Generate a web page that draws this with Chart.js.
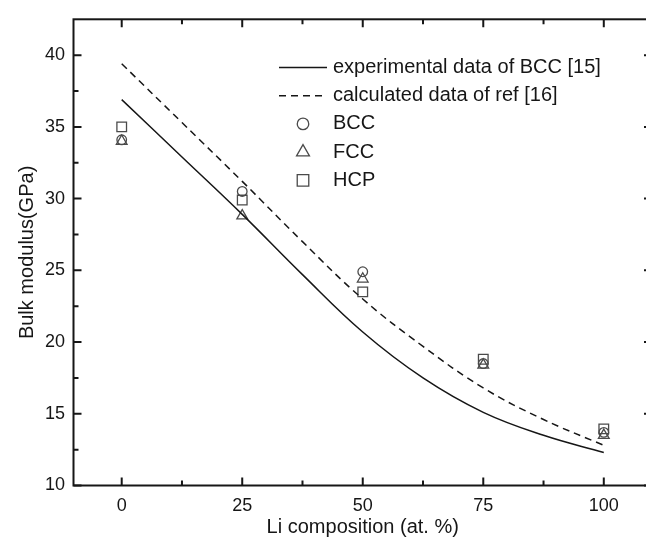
<!DOCTYPE html>
<html>
<head>
<meta charset="utf-8">
<script src="https://cdn.jsdelivr.net/npm/chart.js@4.4.1/dist/chart.umd.min.js"></script>
<style>
html, body { margin: 0; padding: 0; background: #fff; overflow: hidden; width: 646px; height: 539px; }
</style>
</head>
<body>
<canvas id="bulk_chart" width="680" height="539"></canvas>
<script>
let composition = [0, 25, 50, 75, 100];
let curveX = [0, 12.5, 25, 37.5, 50, 62.5, 75, 87.5, 100];
let experimentalBCC = [36.9, 32.9, 28.9, 24.7, 20.7, 17.5, 15.1, 13.5, 12.3];
let calculatedRef = [39.4, 35.3, 31.2, 27.0, 23.0, 19.7, 16.8, 14.6, 12.8];
let bcc = [34.1, 30.5, 24.9, 18.5, 13.7];
let fcc = [34.0, 28.8, 24.4, 18.4, 13.5];
let hcp = [35.0, 29.9, 23.5, 18.8, 13.95];
let xTicks = [0, 25, 50, 75, 100];
let xMinorTicks = [12.5, 37.5, 62.5, 87.5];
let yTicks = [10, 15, 20, 25, 30, 35, 40];
let yMinorTicks = [12.5, 17.5, 22.5, 27.5, 32.5, 37.5];

let fontFamily = '"Liberation Sans", Arial, sans-serif';
let ink = '#161616';
let markerInk = '#4a4a4a';

function pairs(xs, ys) {
    return ys.map(function(y, i) {return {x: xs[i], y: y};});
}

// axis box with inward ticks on all four sides
const framePlugin = {
    id: 'frame',
    afterDatasetsDraw: function(chart) {
        const ctx = chart.ctx;
        const a = chart.chartArea;
        const xs = chart.scales.x, ys = chart.scales.y;
        ctx.save();
        ctx.strokeStyle = ink;
        ctx.lineWidth = 2;
        ctx.strokeRect(a.left, a.top, a.right - a.left, a.bottom - a.top);
        ctx.beginPath();
        function xt(v, len) {
            const px = xs.getPixelForValue(v);
            ctx.moveTo(px, a.bottom); ctx.lineTo(px, a.bottom - len);
            ctx.moveTo(px, a.top); ctx.lineTo(px, a.top + len);
        }
        function yt(v, len) {
            const py = ys.getPixelForValue(v);
            ctx.moveTo(a.left, py); ctx.lineTo(a.left + len, py);
            ctx.moveTo(a.right, py); ctx.lineTo(a.right - len, py);
        }
        xTicks.forEach(function(v) {xt(v, 8);});
        xMinorTicks.forEach(function(v) {xt(v, 5);});
        yTicks.forEach(function(v) {yt(v, 8);});
        yMinorTicks.forEach(function(v) {yt(v, 5);});
        ctx.stroke();
        ctx.restore();
    }
};

// stacked legend inside the plot
const insideLegend = {
    id: 'insideLegend',
    afterDraw: function(chart, args, opts) {
        const ctx = chart.ctx;
        ctx.save();
        ctx.font = opts.size + 'px ' + fontFamily;
        ctx.textBaseline = 'middle';
        chart.data.datasets.forEach(function(ds, i) {
            const y = opts.top + i * opts.rowHeight;
            if (ds.showLine) {
                ctx.strokeStyle = ds.borderColor;
                ctx.lineWidth = ds.borderWidth;
                ctx.setLineDash(ds.borderDash || []);
                ctx.beginPath();
                ctx.moveTo(opts.sampleLeft, y);
                ctx.lineTo(opts.sampleRight, y);
                ctx.stroke();
                ctx.setLineDash([]);
            } else {
                ctx.strokeStyle = ds.borderColor;
                ctx.fillStyle = 'rgba(0,0,0,0)';
                ctx.lineWidth = ds.borderWidth;
                Chart.helpers.drawPoint(ctx, {
                    pointStyle: ds.pointStyle, rotation: 0,
                    radius: ds.pointRadius * 1.2, borderWidth: ds.borderWidth
                }, (opts.sampleLeft + opts.sampleRight) / 2, y);
            }
            ctx.fillStyle = ink;
            ctx.fillText(ds.label, opts.textLeft, y);
        });
        ctx.restore();
    }
};

let bulkChart = new Chart(document.getElementById('bulk_chart'), {
    type: 'scatter',
    data: {
        datasets: [
            {
                label: 'experimental data of BCC [15]',
                data: pairs(curveX, experimentalBCC),
                showLine: true,
                borderColor: ink,
                borderWidth: 1.5,
                pointRadius: 0,
                tension: 0.4
            },
            {
                label: 'calculated data of ref [16]',
                data: pairs(curveX, calculatedRef),
                showLine: true,
                borderColor: ink,
                borderWidth: 1.5,
                borderDash: [7, 5],
                pointRadius: 0,
                tension: 0.4
            },
            {
                label: 'BCC',
                data: pairs(composition, bcc),
                pointStyle: 'circle',
                pointRadius: 4.8,
                borderColor: markerInk,
                backgroundColor: 'rgba(0,0,0,0)',
                borderWidth: 1.3
            },
            {
                label: 'FCC',
                data: pairs(composition, fcc),
                pointStyle: 'triangle',
                pointRadius: 6.2,
                borderColor: markerInk,
                backgroundColor: 'rgba(0,0,0,0)',
                borderWidth: 1.3
            },
            {
                label: 'HCP',
                data: pairs(composition, hcp),
                pointStyle: 'rect',
                pointRadius: 6.8,
                borderColor: markerInk,
                backgroundColor: 'rgba(0,0,0,0)',
                borderWidth: 1.3
            }
        ]
    },
    options: {
        responsive: false,
        animation: false,
        layout: {padding: {top: 15, right: 28, bottom: 0, left: 0}},
        plugins: {
            legend: {display: false},
            tooltip: {enabled: false},
            insideLegend: {top: 67.5, rowHeight: 28.2, sampleLeft: 279, sampleRight: 327, textLeft: 333, size: 20}
        },
        scales: {
            x: {
                type: 'linear',
                min: -10,
                max: 110,
                grid: {display: false, drawTicks: false},
                border: {display: false},
                afterBuildTicks: function(s) {s.ticks = xTicks.map(function(v) {return {value: v};});},
                afterFit: function(s) {s.height = 53.5;},
                ticks: {font: {family: fontFamily, size: 18}, color: ink, padding: 10, maxRotation: 0},
                title: {display: true, text: 'Li composition (at. %)', font: {family: fontFamily, size: 20}, color: ink, padding: {top: 0, bottom: 0}}
            },
            y: {
                type: 'linear',
                min: 10,
                max: 42.5,
                grid: {display: false, drawTicks: false},
                border: {display: false},
                afterBuildTicks: function(s) {s.ticks = yTicks.map(function(v) {return {value: v};});},
                afterFit: function(s) {s.width = 73.5;},
                ticks: {font: {family: fontFamily, size: 18}, color: ink, padding: 8.5},
                title: {display: true, text: 'Bulk modulus(GPa)', font: {family: fontFamily, size: 20}, color: ink, padding: {top: 15, bottom: 0}}
            }
        }
    },
    plugins: [framePlugin, insideLegend]
});
</script>
</body>
</html>
